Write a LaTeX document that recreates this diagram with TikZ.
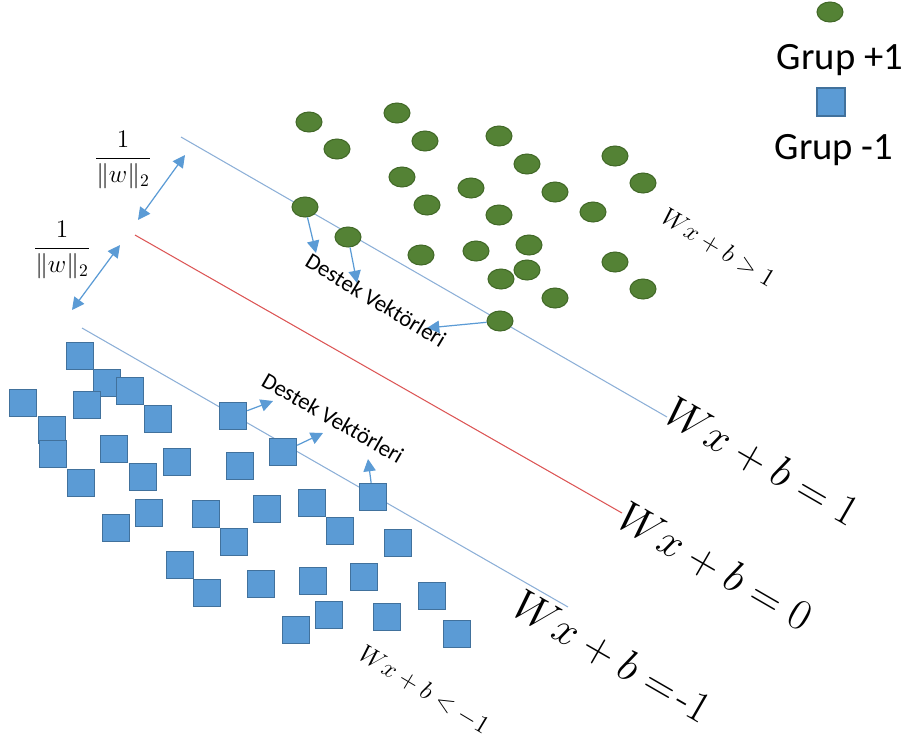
\documentclass[tikz,border=0pt]{standalone}
\usepackage{amsmath,amssymb}
\usepackage{fontspec}
\usepackage{xcolor}
\usepackage{tikz}
\usetikzlibrary{arrows.meta,shapes.geometric}
\newfontfamily\calfont{Carlito}

\definecolor{gfill}{RGB}{84,130,53}
\definecolor{gedge}{RGB}{66,105,40}
\definecolor{bfill}{RGB}{91,155,213}
\definecolor{bedge}{RGB}{65,113,156}
\definecolor{hline}{RGB}{140,175,215}
\definecolor{rline}{RGB}{220,85,85}

\tikzset{
  gpt/.style={ellipse,draw=gedge,fill=gfill,line width=0.6pt,minimum width=0.52cm,minimum height=0.40cm,inner sep=0pt},
  bpt/.style={rectangle,draw=bedge,fill=bfill,line width=0.8pt,minimum size=0.54cm,inner sep=0pt},
  hyper/.style={hline,line width=0.6pt},
  sv/.style={bfill,line width=0.7pt,-{Triangle[length=7pt,width=7pt]}},
  margin/.style={bfill,line width=0.7pt,{Triangle[length=7pt,width=7pt]}-{Triangle[length=7pt,width=7pt]}},
  biglbl/.style={font=\fontsize{24}{28}\selectfont,rotate=-30,inner sep=0pt},
  smalllbl/.style={font=\fontsize{14}{16}\selectfont,rotate=-31,inner sep=0pt},
  svlbl/.style={font=\calfont\fontsize{13}{15}\selectfont,inner sep=0pt}
}

\begin{document}
\begin{tikzpicture}[x=0.02cm,y=-0.02cm]
\useasboundingbox (0,0) rectangle (910,738);

% hyperplanes
\coordinate (u1) at (181,137);
\coordinate (u2) at (667,417);
\coordinate (m1) at (135,235);
\coordinate (m2) at (622,513);
\coordinate (d1) at (82,328);
\coordinate (d2) at (568,607);
\draw[hyper] (u1) -- (u2);
\draw[rline,line width=0.6pt] (m1) -- (m2);
\draw[hyper] (d1) -- (d2);

\node[biglbl] (eqone) at (762,462) {$Wx+b=1$};
\node[biglbl] (eqzero) at (715,567) {$Wx+b=0$};
\node[biglbl] (eqmin) at (612,657) {$Wx+b\mathrel{=}\!\text{-}1$};
\node[smalllbl] (gtone) at (718,248) {$Wx+b>1$};
\node[smalllbl] (ltone) at (424,690) {$Wx+b<-1$};

% margins
\node (frup) at (123,160) {\fontsize{14}{16}\selectfont$\dfrac{1}{\lVert w\rVert_2}$};
\node (frlow) at (62,250) {\fontsize{14}{16}\selectfont$\dfrac{1}{\lVert w\rVert_2}$};
\coordinate (a1) at (185,155);
\coordinate (a2) at (138,220);
\coordinate (a3) at (120,245);
\coordinate (a4) at (72,310);
\draw[margin] (a2) -- (a1);
\draw[margin] (a4) -- (a3);

% group +1
\foreach \x/\y [count=\i] in {309/122,337/149,397/113,425/141,499/136,402/177,527/164,615/156,
  471/188,427/205,555/192,643/183,499/215,593/212,305/207,348/237,421/255,476/251,529/245,
  527/270,501/279,615/262,555/298,643/289,500/321}
  \node[gpt] (g\i) at (\x,\y) {};

% group -1
\foreach \x/\y [count=\i] in {80/356,107/383,130/391,23/403,87/405,158/419,233/416,52/430,
  53/454,114/449,177/462,240/466,283/452,143/477,81/483,373/497,267/509,312/503,149/513,
  206/514,116/528,340/531,234/542,398/543,180/565,364/577,313/581,261/584,207/593,432/596,
  329/615,387/617,296/630,457/634}
  \node[bpt] (b\i) at (\x,\y) {};

% support vectors
\coordinate (t1) at (316,253);
\coordinate (t2) at (357,283);
\coordinate (t3) at (427,328);
\coordinate (t4) at (273,401);
\coordinate (t5) at (323,433);
\coordinate (t6) at (368,459);
\draw[sv] (g15) -- (t1);
\draw[sv] (g16) -- (t2);
\draw[sv] (g25) -- (t3);
\draw[sv] (b7) -- (t4);
\draw[sv] (b13) -- (t5);
\draw[sv] (b16) -- (t6);
\node[svlbl,rotate=-31] (svup) at (376,300) {Destek Vektörleri};
\node[svlbl,rotate=-30] (svlow) at (333,418) {Destek Vektörleri};

% legend
\node[gpt] (leggreen) at (830,12) {};
\node[font=\calfont\fontsize{22}{26}\selectfont,inner sep=0pt] (legplus) at (840,60) {Grup +1};
\node[bpt,minimum size=0.56cm] (legblue) at (831,102) {};
\node[font=\calfont\fontsize{22}{26}\selectfont,inner sep=0pt] (legminus) at (834,150) {Grup -1};
\end{tikzpicture}
\end{document}
